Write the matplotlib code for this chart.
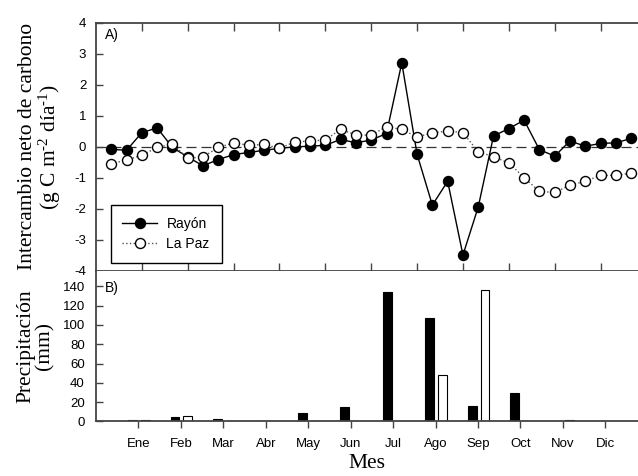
import matplotlib
matplotlib.use("Agg")
import matplotlib.pyplot as plt
import numpy as np

# intercambio neto de carbono cada 10 dias (g C m-2 dia-1)
dias = np.arange(10, 360, 10)
rayon_nee = [-0.08, -0.11, 0.46, 0.61, -0.02, -0.33, -0.61, -0.41, -0.25, -0.18,
             -0.11, -0.05, 0.00, 0.02, 0.05, 0.24, 0.13, 0.22, 0.43, 2.71,
             -0.24, -1.88, -1.11, -3.49, -1.94, 0.35, 0.59, 0.86, -0.09, -0.30,
             0.19, 0.02, 0.11, 0.13, 0.27]
lapaz_nee = [-0.54, -0.43, -0.27, -0.02, 0.09, -0.37, -0.32, -0.02, 0.13, 0.05,
             0.08, -0.05, 0.16, 0.19, 0.22, 0.57, 0.38, 0.38, 0.65, 0.56,
             0.32, 0.45, 0.51, 0.46, -0.16, -0.32, -0.52, -0.99, -1.44, -1.47,
             -1.24, -1.11, -0.92, -0.92, -0.85]

# precipitacion mensual (mm)
meses = ["Ene", "Feb", "Mar", "Abr", "May", "Jun", "Jul", "Ago", "Sep", "Oct", "Nov", "Dic"]
rayon_pp = [1.2, 4.5, 2.5, 0, 9, 15.5, 134, 107, 16.5, 29.5, 0, 0]
lapaz_pp = [1.5, 6, 0, 0, 0, 0, 0, 48.5, 136, 0.6, 1.5, 0]

plt.rcParams['font.family'] = ['Liberation Sans', 'DejaVu Sans']
plt.rcParams['axes.unicode_minus'] = False
plt.rcParams['mathtext.fontset'] = 'custom'
plt.rcParams['mathtext.rm'] = 'Liberation Serif'
plt.rcParams['mathtext.it'] = 'Liberation Serif:italic'
spine_c = "#444444"

fig = plt.figure(figsize=(6.38, 4.76), dpi=100)
axA = fig.add_axes([0.1505, 0.431, 0.8495, 0.521])
axB = fig.add_axes([0.1505, 0.1145, 0.8495, 0.3165])

# panel A
axA.axhline(0, color="#333333", lw=0.9, dashes=(8, 4), zorder=1)
axA.plot(dias, rayon_nee, "-o", color="black", lw=1.0, ms=7.2,
         mfc="black", mec="black", label="Rayón", zorder=3)
axA.plot(dias, lapaz_nee, ":o", color="#555555", lw=1.0, ms=7.2,
         mfc="white", mec="black", mew=1.0, label="La Paz", zorder=4)
axA.set_xlim(0, 354.5)
axA.set_ylim(-4, 4)
axA.set_yticks(range(-4, 5))
axA.set_xticks(np.arange(30, 354, 30))
axA.set_xticklabels([])
axA.tick_params(axis="x", direction="inout", length=11, width=1, color=spine_c)
axA.tick_params(axis="y", direction="in", length=5, width=1, color=spine_c,
                labelsize=9.5, pad=7)
top = axA.secondary_xaxis("top")
top.set_xticks(np.arange(30, 354, 30))
top.set_xticklabels([])
top.tick_params(direction="in", length=6, width=1, color=spine_c)
top.spines["top"].set_visible(False)
axA.spines["right"].set_visible(False)
for s in ["top", "bottom", "left"]:
    axA.spines[s].set_color(spine_c)
    axA.spines[s].set_linewidth(1.3)
axA.text(0.017, 0.935, "A)", transform=axA.transAxes, fontsize=10)
leg = axA.legend(loc="lower left", bbox_to_anchor=(0.027, 0.033), fontsize=10,
                 fancybox=False, framealpha=1, edgecolor="black",
                 handlelength=2.5, handletextpad=0.67, borderpad=0.85,
                 labelspacing=0.45, borderaxespad=0)
leg.get_frame().set_linewidth(1.0)
axA.set_ylabel("Intercambio neto de carbono\n(g C m$^{\u20102}$ día$^{\u20101}$)",
               family="Liberation Serif", fontsize=15.5, labelpad=8, linespacing=1.0)

# panel B
x = np.arange(1, len(meses) + 1)
axB.bar(x - 0.14, rayon_pp, width=0.21, color="black", edgecolor="black", lw=0.8)
axB.bar(x + 0.165, lapaz_pp, width=0.21, color="white", edgecolor="black", lw=0.8)
axB.set_xlim(0, 12.77)
axB.set_ylim(0, 156)
axB.set_yticks(range(0, 141, 20))
axB.set_xticks(x)
axB.set_xticklabels(meses)
axB.tick_params(axis="x", direction="out", length=5, width=1, color=spine_c,
                labelsize=9.5, pad=7)
axB.tick_params(axis="y", direction="in", length=5, width=1, color=spine_c,
                labelsize=9.5, pad=8)
for s in ["top", "right"]:
    axB.spines[s].set_visible(False)
for s in ["bottom", "left"]:
    axB.spines[s].set_color(spine_c)
    axB.spines[s].set_linewidth(1.3)
axB.text(0.017, 0.86, "B)", transform=axB.transAxes, fontsize=10)
axB.set_ylabel("Precipitación\n(mm)", family="Liberation Serif", fontsize=15.5,
               labelpad=6, linespacing=1.0)
axB.set_xlabel("Mes", family="Liberation Serif", fontsize=15.5, labelpad=3)

fig.savefig("out.png", dpi=100)
